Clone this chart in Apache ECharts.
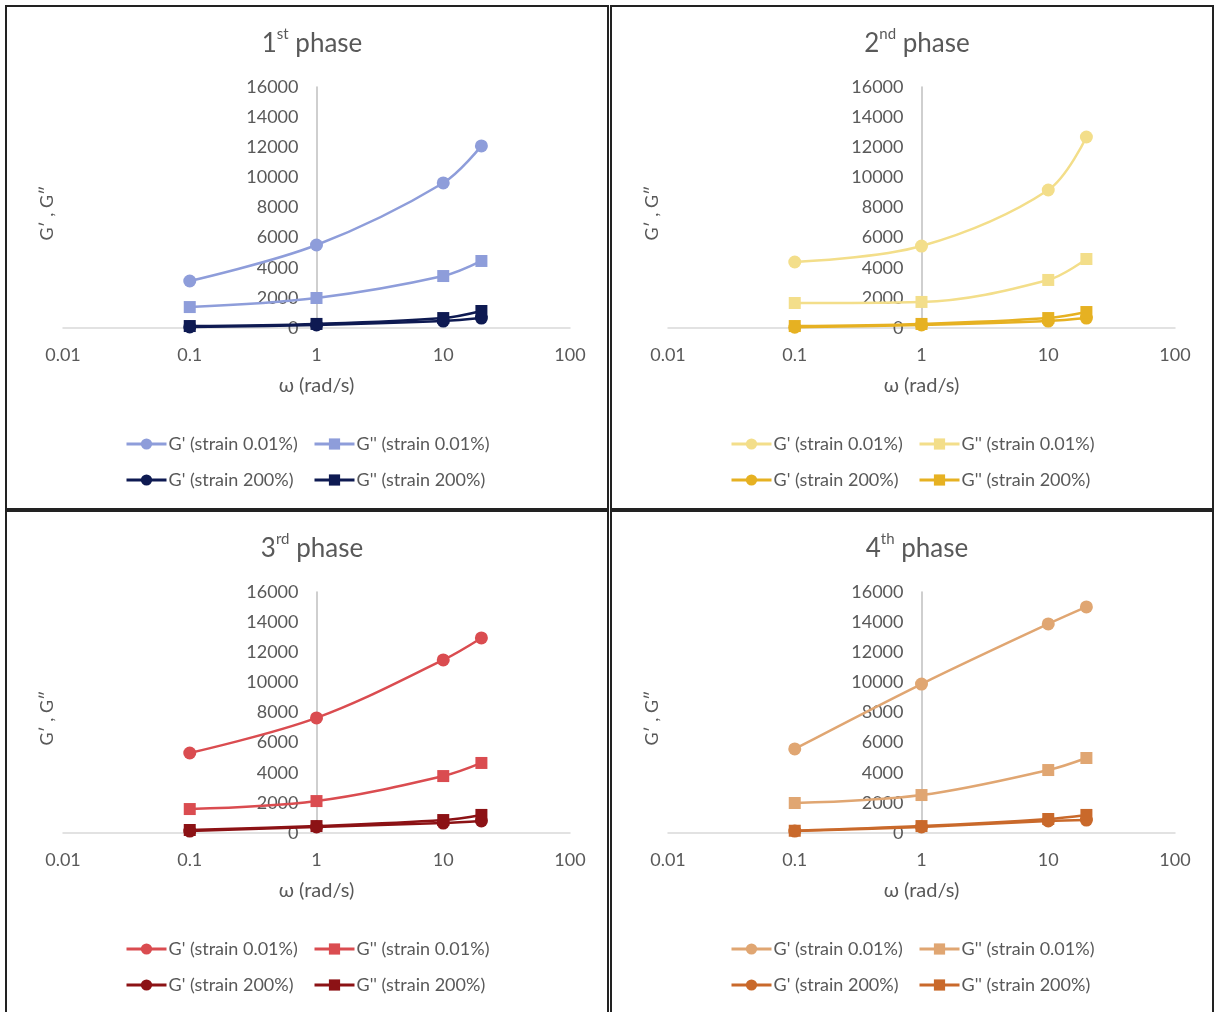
<!DOCTYPE html>
<html><head><meta charset="utf-8">
<script src="https://cdn.jsdelivr.net/npm/echarts@6/dist/echarts.min.js"></script>
<style>
body{margin:0;background:#fff;width:1214px;height:1012px;overflow:hidden;position:relative;}
.p{position:absolute;border:2px solid #222;box-sizing:border-box;background:#fff}
</style></head><body>
<div id="c1" class="p" style="left:5px;top:5px;width:604px;height:505px"></div>
<div id="c2" class="p" style="left:610px;top:5px;width:604px;height:505px"></div>
<div id="c3" class="p" style="left:5px;top:510px;width:604px;height:510px"></div>
<div id="c4" class="p" style="left:610px;top:510px;width:604px;height:510px"></div>
<script>
// x values (rad/s)
const omega = [0.1, 1, 10, 20];
const xTicks = [0.01, 0.1, 1, 10, 100];
const yTicks = [0, 2000, 4000, 6000, 8000, 10000, 12000, 14000, 16000];
const seriesNames = ["G' (strain 0.01%)", "G'' (strain 0.01%)", "G' (strain 200%)", "G'' (strain 200%)"];
const titles = [["1", "st"], ["2", "nd"], ["3", "rd"], ["4", "th"]];

// Phase 1
const p1GpLow = [3120, 5510, 9630, 12090];
const p1GppLow = [1390, 1990, 3450, 4450];
const p1GpHigh = [70, 200, 460, 660];
const p1GppHigh = [130, 270, 660, 1130];
// Phase 2
const p2GpLow = [4380, 5440, 9160, 12680];
const p2GppLow = [1660, 1730, 3190, 4580];
const p2GpHigh = [50, 200, 460, 660];
const p2GppHigh = [130, 270, 660, 1060];
// Phase 3
const p3GpLow = [5310, 7640, 11490, 12950];
const p3GppLow = [1590, 2120, 3780, 4650];
const p3GpHigh = [130, 400, 660, 800];
const p3GppHigh = [200, 460, 860, 1200];
// Phase 4
const p4GpLow = [5580, 9890, 13880, 15010];
const p4GppLow = [1990, 2520, 4180, 4980];
const p4GpHigh = [130, 400, 800, 860];
const p4GppHigh = [150, 460, 930, 1200];

const colors = [
  ['#8E9DDA', '#0E1A52'],
  ['#F3DE8A', '#E6B122'],
  ['#DA4C50', '#8C1215'],
  ['#E0A672', '#C9692B']
];
const panelData = [
  [p1GpLow, p1GppLow, p1GpHigh, p1GppHigh],
  [p2GpLow, p2GppLow, p2GpHigh, p2GppHigh],
  [p3GpLow, p3GppLow, p3GpHigh, p3GppHigh],
  [p4GpLow, p4GppLow, p4GpHigh, p4GppHigh]
];

const FONT = 'Lato';
const TXT = '#595959';

function build(i) {
  const [light, dark] = colors[i];
  const d = panelData[i];
  const cols = [light, light, dark, dark];
  const syms = ['circle', 'rect', 'circle', 'rect'];
  const gridW = 507;
  const series = d.map((vals, k) => ({
    name: seriesNames[k],
    type: 'line',
    smooth: 0.35,
    data: omega.map((x, j) => [x, vals[j]]),
    symbol: syms[k],
    symbolSize: syms[k] === 'circle' ? 13 : 12,
    showAllSymbol: true,
    lineStyle: { color: cols[k], width: 2.5 },
    itemStyle: { color: cols[k], borderWidth: 0 },
    z: k + 2,
    emphasis: { disabled: true }
  }));
  const legendBase = {
    orient: 'vertical',
    top: 428,
    padding: 0,
    itemWidth: 40,
    itemHeight: 14,
    itemGap: 18,
    lineStyle: { width: 3 },
    textStyle: { fontFamily: FONT, fontSize: 18, color: TXT, padding: [0, 0, 0, -3] },
    selectedMode: false
  };
  return {
    animation: false,
    textStyle: { fontFamily: FONT },
    title: {
      text: '{a|' + titles[i][0] + '}{b|' + titles[i][1] + '}{a| phase}',
      left: 300, top: 15, textAlign: 'center',
      textStyle: {
        fontWeight: 'normal',
        rich: {
          a: { fontFamily: FONT, fontSize: 26, fontWeight: 'normal', color: TXT, lineHeight: 30, verticalAlign: 'bottom' },
          b: { fontFamily: FONT, fontSize: 15, fontWeight: 'normal', color: TXT, lineHeight: 30, verticalAlign: 'top', padding: [0, 0, 10, 0] }
        }
      }
    },
    legend: [
      Object.assign({}, legendBase, { left: 118, data: [seriesNames[0], seriesNames[2]] }),
      Object.assign({}, legendBase, { left: 306, data: [seriesNames[1], seriesNames[3]] })
    ],
    grid: { left: 56, top: 80, width: gridW, height: 241 },
    xAxis: {
      type: 'log', logBase: 10, min: xTicks[0], max: xTicks[xTicks.length - 1], interval: 1,
      name: 'ω (rad/s)', nameLocation: 'middle', nameGap: 48,
      nameTextStyle: { fontFamily: FONT, fontSize: 20, color: TXT },
      axisLine: { show: true, lineStyle: { color: '#D9D9D9', width: 1.5 } },
      axisTick: { show: false },
      splitLine: { show: false },
      minorTick: { show: false }, minorSplitLine: { show: false },
      axisLabel: {
        fontFamily: FONT, fontSize: 18, color: TXT, margin: 18,
        formatter: v => String(+(+v).toPrecision(6))
      }
    },
    yAxis: {
      type: 'value', min: yTicks[0], max: yTicks[yTicks.length - 1], interval: 2000,
      offset: -gridW / 2,
      axisLine: { show: true, onZero: false, lineStyle: { color: '#BFBFBF', width: 1.5 } },
      axisTick: { show: false },
      splitLine: { show: false },
      axisLabel: { fontFamily: FONT, fontSize: 18, color: TXT, margin: 18, formatter: v => String(v) }
    },
    graphic: [{
      type: 'text', x: 40, y: 206, rotation: Math.PI / 2,
      style: { text: 'G′ , G″', fontFamily: FONT, fontSize: 18, fill: TXT, align: 'center', verticalAlign: 'middle' }
    }],
    series
  };
}

for (let i = 0; i < 4; i++) {
  const chart = echarts.init(document.getElementById('c' + (i + 1)), null, { renderer: 'canvas' });
  chart.setOption(build(i));
}
</script>
</body></html>
